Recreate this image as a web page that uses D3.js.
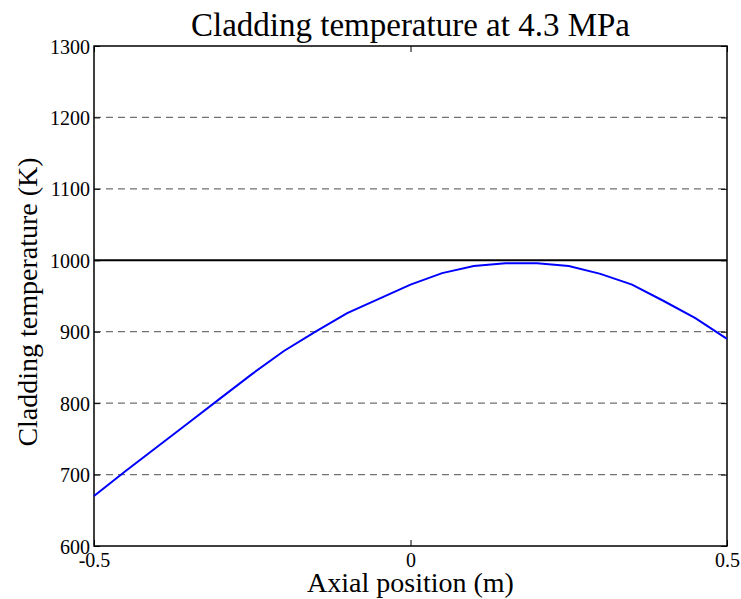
<!DOCTYPE html>
<meta charset="utf-8">
<style>
    body { margin: 0; background: #fff; }
    svg text { font-family: "Liberation Serif", "Times New Roman", serif; fill: #000; }
    .grid line { stroke: #707070; stroke-width: 1.2px; stroke-dasharray: 7,5; }
    .tick line { stroke: #000; }
    .domain { display: none; }
</style>
<svg width="741" height="599"></svg>
<script src="https://cdn.jsdelivr.net/npm/d3@7/dist/d3.min.js"></script>
<script>

    // axial position (m) and cladding temperature (K)
    var position = [-0.5, -0.45, -0.4, -0.35, -0.3, -0.25, -0.2, -0.15, -0.1, -0.05,
        0, 0.05, 0.1, 0.15, 0.2, 0.25, 0.3, 0.35, 0.4, 0.45, 0.5];
    var temperature = [670, 705, 739, 773, 807, 841, 873, 900, 926, 946,
        966, 982, 992, 996, 996, 992, 981, 966, 943, 919, 890];
    var xTicks = [-0.5, 0, 0.5];
    var xTickLabels = ["-0.5", "0", "0.5"];
    var yTicks = [600, 700, 800, 900, 1000, 1100, 1200, 1300];
    var limitTemp = 1000;

    var serif = "Liberation Serif, Times New Roman, serif";

    var svg = d3.select("svg"),
        margin = { left: 94, top: 46, right: 14, bottom: 53 },
        width = 741 - margin.left - margin.right,
        height = 599 - margin.top - margin.bottom,
        g = svg.append("g").attr("transform", "translate(" + margin.left + "," + margin.top + ")");

    var x = d3.scaleLinear().domain([-0.5, 0.5]).range([0, width]);
    var y = d3.scaleLinear().domain([600, 1300]).range([height, 0]);

    // dashed grid
    g.append("g").attr("class", "grid")
        .selectAll("line")
        .data(yTicks.filter(function (d) { return d > 600 && d < 1300 && d !== limitTemp; }))
        .enter().append("line")
        .attr("x1", 0).attr("x2", width)
        .attr("y1", function (d) { return y(d); })
        .attr("y2", function (d) { return y(d); });

    // limit line
    g.append("line")
        .attr("x1", 0).attr("x2", width)
        .attr("y1", y(limitTemp)).attr("y2", y(limitTemp))
        .attr("stroke", "#000").attr("stroke-width", 2);

    // axes with inward ticks
    var xAxis = g.append("g").attr("transform", "translate(0," + height + ")")
        .call(d3.axisBottom(x).tickValues(xTicks).tickSizeInner(-6).tickSizeOuter(0)
            .tickFormat(function (d, i) { return xTickLabels[i]; }));
    xAxis.attr("font-family", serif).attr("font-size", 20);
    xAxis.selectAll("text").attr("dy", 0).attr("y", 21);
    g.append("g")
        .call(d3.axisTop(x).tickValues(xTicks).tickSizeInner(-6).tickSizeOuter(0).tickFormat(""));

    var yAxis = g.append("g")
        .call(d3.axisLeft(y).tickValues(yTicks).tickSizeInner(-6).tickSizeOuter(0).tickFormat(d3.format("d")));
    yAxis.attr("font-family", serif).attr("font-size", 20);
    yAxis.selectAll("text").attr("x", -4).attr("dy", "0.35em");
    g.append("g").attr("transform", "translate(" + width + ",0)")
        .call(d3.axisRight(y).tickValues(yTicks).tickSizeInner(-6).tickSizeOuter(0).tickFormat(""));
    g.selectAll(".tick line").attr("stroke-width", 1);

    // box
    g.append("rect")
        .attr("width", width).attr("height", height)
        .attr("fill", "none").attr("stroke", "#000").attr("stroke-width", 1.5);

    // curve
    var line = d3.line()
        .x(function (d, i) { return x(position[i]); })
        .y(function (d) { return y(d); });
    g.append("path")
        .datum(temperature)
        .attr("fill", "none")
        .attr("stroke", "#0000ff")
        .attr("stroke-width", 2)
        .attr("d", line);

    // titles
    svg.append("text")
        .attr("x", margin.left + width / 2).attr("y", 36)
        .attr("text-anchor", "middle").style("font-size", "33px")
        .text("Cladding temperature at 4.3 MPa");
    svg.append("text")
        .attr("x", margin.left + width / 2).attr("y", 592)
        .attr("text-anchor", "middle").style("font-size", "28px")
        .text("Axial position (m)");
    svg.append("text")
        .attr("transform", "translate(37," + (margin.top + height / 2 + 6) + ") rotate(-90)")
        .attr("text-anchor", "middle").style("font-size", "28px")
        .text("Cladding temperature (K)");

</script>
